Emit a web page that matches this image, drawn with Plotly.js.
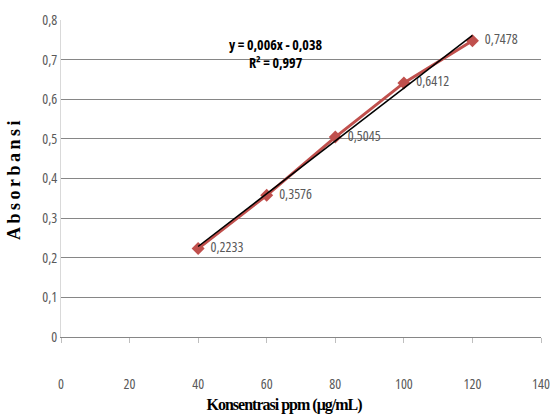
<!DOCTYPE html>
<html>
<head>
<meta charset="utf-8">
<script src="https://cdn.plot.ly/plotly-3.0.1.min.js"></script>
<style>
html,body{margin:0;padding:0;background:#fff;}
#chart{width:551px;height:418px;}
#chart text{font-stretch: 75% !important;}
#chart .annotation[data-index="1"] text{letter-spacing:-1px;}
#chart .ytitle{letter-spacing:3.5px;}
</style>
</head>
<body>
<div id="chart"></div>
<script>
const konsentrasi = [40, 60, 80, 100, 120];
const absorbansi = [0.2233, 0.3576, 0.5045, 0.6412, 0.7478];
const labels = ["0,2233", "0,3576", "0,5045", "0,6412", "0,7478"];
const equationText = "y = 0,006x - 0,038<br>R² = 0,997";
const xTitle = "Konsentrasi ppm (μg/mL)";
const yTitle = "Absorbansi";

// least-squares trendline computed from the data
const n = konsentrasi.length;
const mx = konsentrasi.reduce((a,b)=>a+b,0)/n;
const my = absorbansi.reduce((a,b)=>a+b,0)/n;
let sxy = 0, sxx = 0;
for (let i=0;i<n;i++){ sxy += (konsentrasi[i]-mx)*(absorbansi[i]-my); sxx += (konsentrasi[i]-mx)**2; }
const slope = sxy/sxx, intercept = my - slope*mx;
const trendX = [konsentrasi[0], konsentrasi[n-1]];
const trendY = trendX.map(x => slope*x + intercept);

const narrow = "'Open Sans', 'DejaVu Sans', sans-serif";
const serif = "'Liberation Serif', 'Times New Roman', serif";

const data = [
  {
    x: konsentrasi, y: absorbansi, text: labels.map(t => '\u00a0\u00a0' + t),
    mode: 'lines+markers+text', type: 'scatter',
    textposition: 'middle right',
    textfont: {family: narrow, size: 14, color: '#595959'},
    line: {color: '#C0504D', width: 3},
    marker: {symbol: 'diamond', size: 10, color: '#C0504D'},
    cliponaxis: false, hoverinfo: 'skip'
  },
  {
    x: trendX, y: trendY, mode: 'lines', type: 'scatter',
    line: {color: '#000000', width: 1.5}, hoverinfo: 'skip'
  }
];

const layout = {
  width: 551, height: 418,
  margin: {l: 61, r: 10, t: 20, b: 81},
  showlegend: false,
  separators: ',.',
  paper_bgcolor: '#ffffff', plot_bgcolor: '#ffffff',
  font: {family: narrow, color: '#595959', size: 14},
  xaxis: {
    range: [0, 140], dtick: 20, tick0: 0,
    showgrid: false, zeroline: false,
    showline: true, linecolor: '#868686', linewidth: 1,
    ticks: 'outside', ticklen: 5, tickcolor: '#BFBFBF',
    ticklabelstandoff: 29,
    ticklabeloverflow: 'allow',
    tickfont: {family: narrow, size: 14, color: '#595959'}
  },
  yaxis: {
    range: [0, 0.8], dtick: 0.1, tick0: 0,
    showgrid: true, gridcolor: '#868686', gridwidth: 1,
    zeroline: false,
    showline: true, linecolor: '#D9D9D9', linewidth: 1,
    ticks: '',
    tickfont: {family: narrow, size: 14, color: '#595959'},
    title: {text: yTitle, font: {family: serif, size: 18, color: '#000000', weight: 'bold'}, standoff: 12}
  },
  annotations: [
    {
      x: 62.5, y: 0.715, xref: 'x', yref: 'y', text: equationText,
      showarrow: false, align: 'center',
      font: {family: narrow, size: 14, color: '#000000', weight: 'bold'}
    },
    {
      x: 0.4646, y: -0.2145, xref: 'paper', yref: 'paper', text: xTitle,
      showarrow: false, xanchor: 'center', yanchor: 'middle',
      font: {family: serif, size: 16, color: '#000000', weight: 'bold'}
    }
  ]
};

Plotly.newPlot('chart', data, layout, {displayModeBar: false, staticPlot: true});
</script>
</body>
</html>
